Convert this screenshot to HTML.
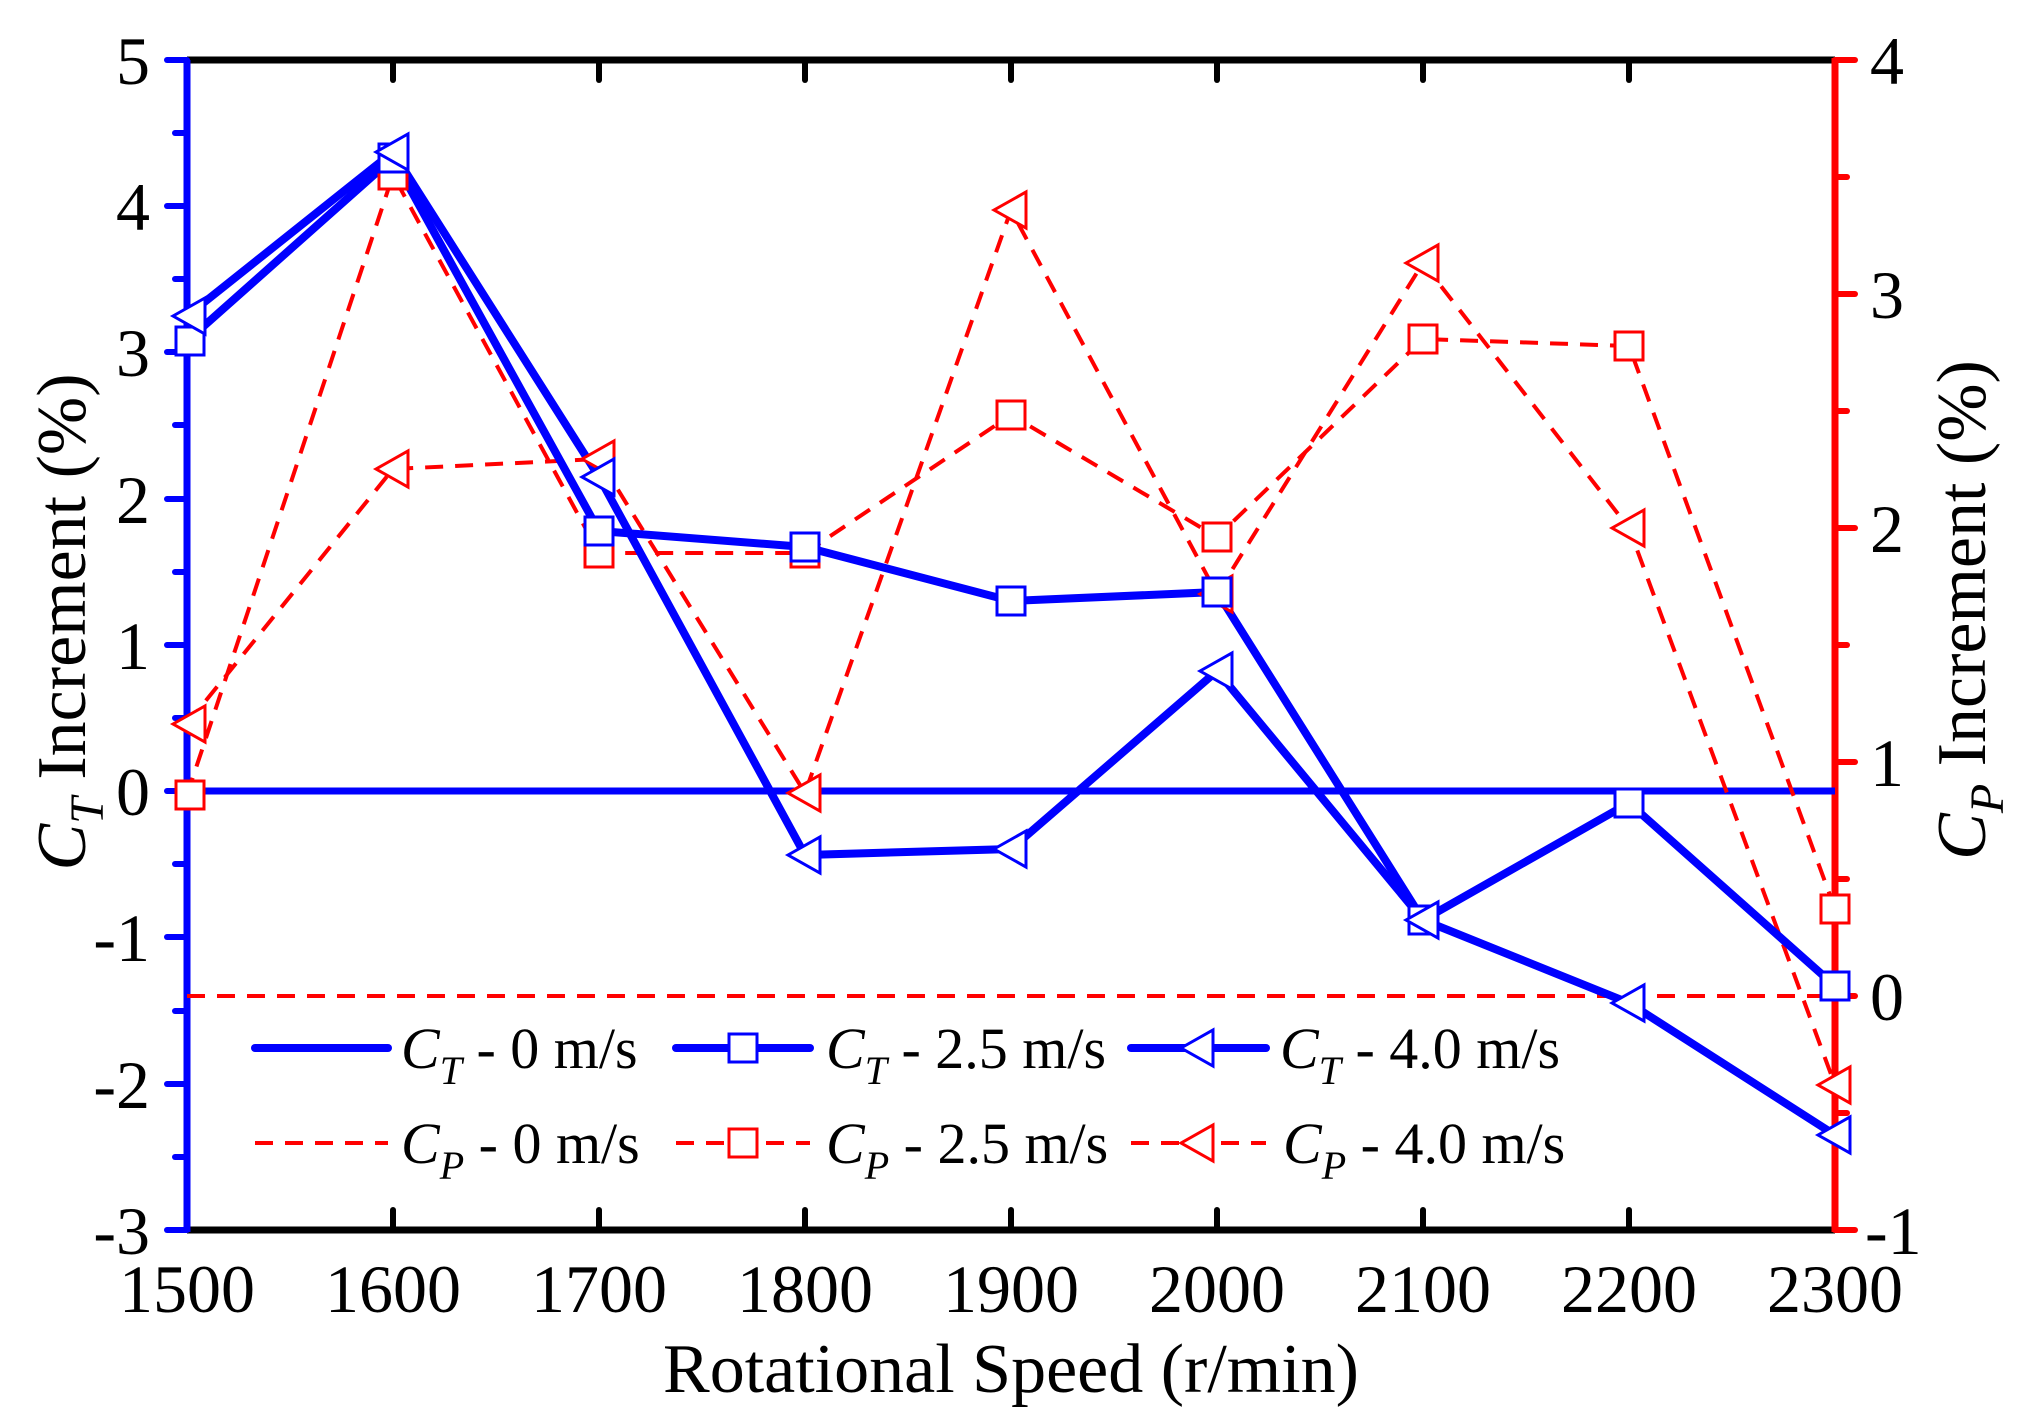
<!DOCTYPE html>
<html><head><meta charset="utf-8"><style>
html,body{margin:0;padding:0;background:#fff}
svg{display:block}
text{font-family:"Liberation Serif",serif;fill:#000}
</style></head><body>
<svg width="2022" height="1419" viewBox="0 0 2022 1419" xmlns="http://www.w3.org/2000/svg">
<defs>
<g id="sqB"><rect x="-14" y="-14" width="28" height="28" fill="#fff" stroke="#0000ff" stroke-width="3"/></g>
<g id="sqR"><rect x="-14" y="-14" width="28" height="28" fill="#fff" stroke="#ff0000" stroke-width="3"/></g>
<g id="trB"><polygon points="-17,0 15,-18 15,18" fill="#fff" stroke="#0000ff" stroke-width="3"/></g>
<g id="trR"><polygon points="-17,0 15,-18 15,18" fill="#fff" stroke="#ff0000" stroke-width="3"/></g>
</defs>
<line x1="187" y1="60" x2="1835" y2="60" stroke="#000" stroke-width="7"/>
<line x1="187" y1="1230" x2="1835" y2="1230" stroke="#000" stroke-width="7"/>
<g stroke="#000" stroke-width="6" stroke-linecap="round">
<line x1="393" y1="60" x2="393" y2="80"/><line x1="599" y1="60" x2="599" y2="80"/><line x1="805" y1="60" x2="805" y2="80"/><line x1="1011" y1="60" x2="1011" y2="80"/><line x1="1217" y1="60" x2="1217" y2="80"/><line x1="1423" y1="60" x2="1423" y2="80"/><line x1="1629" y1="60" x2="1629" y2="80"/>
<line x1="393" y1="1230" x2="393" y2="1210"/><line x1="599" y1="1230" x2="599" y2="1210"/><line x1="805" y1="1230" x2="805" y2="1210"/><line x1="1011" y1="1230" x2="1011" y2="1210"/><line x1="1217" y1="1230" x2="1217" y2="1210"/><line x1="1423" y1="1230" x2="1423" y2="1210"/><line x1="1629" y1="1230" x2="1629" y2="1210"/>
</g>
<line x1="187" y1="60" x2="187" y2="1232" stroke="#0000ff" stroke-width="7"/>
<g stroke="#0000ff" stroke-width="6" stroke-linecap="round">
<line x1="167" y1="60" x2="187" y2="60"/><line x1="167" y1="206" x2="187" y2="206"/><line x1="167" y1="352" x2="187" y2="352"/><line x1="167" y1="499" x2="187" y2="499"/><line x1="167" y1="645" x2="187" y2="645"/><line x1="167" y1="791" x2="187" y2="791"/><line x1="167" y1="937" x2="187" y2="937"/><line x1="167" y1="1084" x2="187" y2="1084"/><line x1="167" y1="1230" x2="187" y2="1230"/>
<line x1="175" y1="133" x2="187" y2="133"/><line x1="175" y1="279" x2="187" y2="279"/><line x1="175" y1="425" x2="187" y2="425"/><line x1="175" y1="572" x2="187" y2="572"/><line x1="175" y1="718" x2="187" y2="718"/><line x1="175" y1="864" x2="187" y2="864"/><line x1="175" y1="1011" x2="187" y2="1011"/><line x1="175" y1="1157" x2="187" y2="1157"/>
</g>
<line x1="1835" y1="58" x2="1835" y2="1232" stroke="#ff0000" stroke-width="7"/>
<g stroke="#ff0000" stroke-width="6" stroke-linecap="round">
<line x1="1835" y1="60" x2="1855" y2="60"/><line x1="1835" y1="294" x2="1855" y2="294"/><line x1="1835" y1="528" x2="1855" y2="528"/><line x1="1835" y1="762" x2="1855" y2="762"/><line x1="1835" y1="996" x2="1855" y2="996"/><line x1="1835" y1="1230" x2="1855" y2="1230"/>
<line x1="1835" y1="177" x2="1847" y2="177"/><line x1="1835" y1="411" x2="1847" y2="411"/><line x1="1835" y1="645" x2="1847" y2="645"/><line x1="1835" y1="879" x2="1847" y2="879"/><line x1="1835" y1="1113" x2="1847" y2="1113"/>
</g>
<g font-size="68" text-anchor="end">
<text x="150" y="84">5</text><text x="150" y="230">4</text><text x="150" y="376">3</text><text x="150" y="523">2</text><text x="150" y="669">1</text><text x="150" y="815">0</text><text x="150" y="961">-1</text><text x="150" y="1108">-2</text><text x="150" y="1254">-3</text>
</g>
<g font-size="68" text-anchor="start">
<text x="1870" y="84">4</text><text x="1870" y="318">3</text><text x="1870" y="552">2</text><text x="1870" y="786">1</text><text x="1870" y="1020">0</text><text x="1865" y="1254">-1</text>
</g>
<g font-size="68" text-anchor="middle">
<text x="187" y="1312">1500</text><text x="393" y="1312">1600</text><text x="599" y="1312">1700</text><text x="805" y="1312">1800</text><text x="1011" y="1312">1900</text><text x="1217" y="1312">2000</text><text x="1423" y="1312">2100</text><text x="1629" y="1312">2200</text><text x="1835" y="1312">2300</text>
</g>
<text x="1011" y="1392" font-size="70" text-anchor="middle">Rotational Speed (r/min)</text>
<text transform="translate(85,622) rotate(-90)" font-size="70" text-anchor="middle"><tspan font-style="italic">C</tspan><tspan font-style="italic" font-size="48" dy="18">T</tspan><tspan dy="-18"> Increment (%)</tspan></text>
<text transform="translate(1985,610) rotate(-90)" font-size="70" text-anchor="middle"><tspan font-style="italic">C</tspan><tspan font-style="italic" font-size="48" dy="18">P</tspan><tspan dy="-18"> Increment (%)</tspan></text>

<line x1="187" y1="791" x2="1835" y2="791" stroke="#0000ff" stroke-width="7"/>
<line x1="187" y1="996" x2="1835" y2="996" stroke="#ff0000" stroke-width="4" stroke-dasharray="18,12"/>
<polyline fill="none" stroke="#ff0000" stroke-width="4" stroke-dasharray="18,12" points="187,795 393,175 599,553 805,553 1011,415 1217,537 1423,339 1629,346 1835,909"/>
<polyline fill="none" stroke="#ff0000" stroke-width="4" stroke-dasharray="18,12" points="187,724 393,469 599,459 805,793 1011,210 1217,594 1423,263 1629,528 1835,1085"/>
<polyline fill="none" stroke="#0000ff" stroke-width="8" points="187,341 393,158 599,531 805,547 1011,601 1217,592 1423,920 1629,803 1835,986"/>
<polyline fill="none" stroke="#0000ff" stroke-width="8" points="187,316 393,152 599,477 805,855 1011,849 1217,671 1423,920 1629,1003 1835,1135"/>
<g>
<use href="#sqR" x="190" y="795"/><use href="#sqR" x="393" y="175"/><use href="#sqR" x="599" y="553"/><use href="#sqR" x="805" y="553"/><use href="#sqR" x="1011" y="415"/><use href="#sqR" x="1217" y="537"/><use href="#sqR" x="1423" y="339"/><use href="#sqR" x="1629" y="346"/><use href="#sqR" x="1835" y="909"/>
<use href="#trR" x="190" y="724"/><use href="#trR" x="393" y="469"/><use href="#trR" x="599" y="459"/><use href="#trR" x="805" y="793"/><use href="#trR" x="1011" y="210"/><use href="#trR" x="1217" y="594"/><use href="#trR" x="1423" y="263"/><use href="#trR" x="1629" y="528"/><use href="#trR" x="1835" y="1085"/>
<use href="#sqB" x="190" y="341"/><use href="#sqB" x="393" y="158"/><use href="#sqB" x="599" y="531"/><use href="#sqB" x="805" y="547"/><use href="#sqB" x="1011" y="601"/><use href="#sqB" x="1217" y="592"/><use href="#sqB" x="1423" y="920"/><use href="#sqB" x="1629" y="803"/><use href="#sqB" x="1835" y="986"/>
<use href="#trB" x="190" y="316"/><use href="#trB" x="393" y="152"/><use href="#trB" x="599" y="477"/><use href="#trB" x="805" y="855"/><use href="#trB" x="1011" y="849"/><use href="#trB" x="1217" y="671"/><use href="#trB" x="1423" y="920"/><use href="#trB" x="1629" y="1003"/><use href="#trB" x="1835" y="1135"/>
</g>

<g>
<line x1="255" y1="1048" x2="388" y2="1048" stroke="#0000ff" stroke-width="8" stroke-linecap="round"/>
<line x1="676" y1="1048" x2="810" y2="1048" stroke="#0000ff" stroke-width="8" stroke-linecap="round"/><use href="#sqB" x="743" y="1048"/>
<line x1="1131" y1="1048" x2="1266" y2="1048" stroke="#0000ff" stroke-width="8" stroke-linecap="round"/><use href="#trB" x="1198" y="1048"/>
<line x1="255" y1="1143" x2="388" y2="1143" stroke="#ff0000" stroke-width="4" stroke-dasharray="18,12"/>
<line x1="676" y1="1143" x2="810" y2="1143" stroke="#ff0000" stroke-width="4" stroke-dasharray="18,12"/><use href="#sqR" x="743" y="1143"/>
<line x1="1131" y1="1143" x2="1266" y2="1143" stroke="#ff0000" stroke-width="4" stroke-dasharray="18,12"/><use href="#trR" x="1198" y="1143"/>
</g>
<g font-size="58">
<text x="401" y="1068"><tspan font-style="italic">C</tspan><tspan font-style="italic" font-size="40" dy="16">T</tspan><tspan dy="-16"> - 0 m/s</tspan></text>
<text x="826" y="1068"><tspan font-style="italic">C</tspan><tspan font-style="italic" font-size="40" dy="16">T</tspan><tspan dy="-16"> - 2.5 m/s</tspan></text>
<text x="1280" y="1068"><tspan font-style="italic">C</tspan><tspan font-style="italic" font-size="40" dy="16">T</tspan><tspan dy="-16"> - 4.0 m/s</tspan></text>
<text x="401" y="1163"><tspan font-style="italic">C</tspan><tspan font-style="italic" font-size="40" dy="16">P</tspan><tspan dy="-16"> - 0 m/s</tspan></text>
<text x="826" y="1163"><tspan font-style="italic">C</tspan><tspan font-style="italic" font-size="40" dy="16">P</tspan><tspan dy="-16"> - 2.5 m/s</tspan></text>
<text x="1283" y="1163"><tspan font-style="italic">C</tspan><tspan font-style="italic" font-size="40" dy="16">P</tspan><tspan dy="-16"> - 4.0 m/s</tspan></text>
</g>
</svg>
</body></html>
